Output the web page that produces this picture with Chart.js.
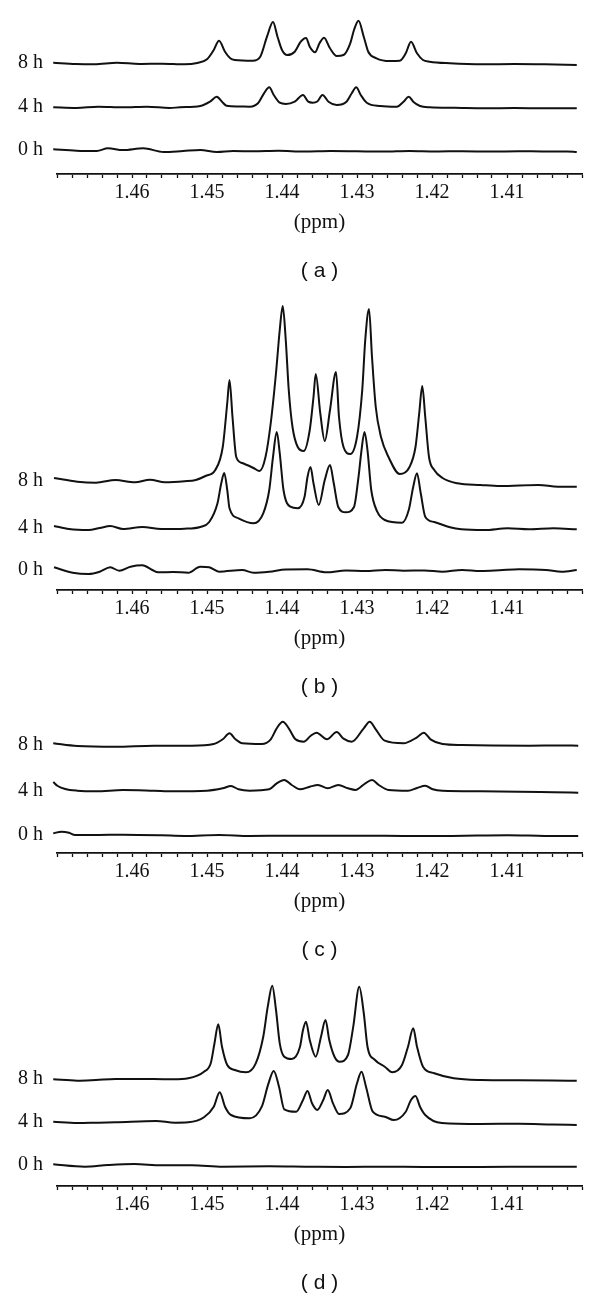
<!DOCTYPE html>
<html>
<head>
<meta charset="utf-8">
<script src="https://cdn.jsdelivr.net/npm/chart.js@4.4.0/dist/chart.umd.min.js"></script>
<style>
  html, body { margin: 0; padding: 0; background: #fff; }
  #page { position: relative; width: 600px; height: 1300px; }
  #page canvas { position: absolute; left: 0; }
</style>
</head>
<body>
<div id="page">
  <canvas id="panelA" width="600" height="287" style="top:0px"></canvas>
  <canvas id="panelB" width="600" height="413" style="top:290px"></canvas>
  <canvas id="panelC" width="600" height="261" style="top:705px"></canvas>
  <canvas id="panelD" width="600" height="331" style="top:968px"></canvas>
</div>
<script>
// ppm tick labels on the shared x axis, and trace names
const ppmLabels = [1.46, 1.45, 1.44, 1.43, 1.42, 1.41];
const timeLabels = ['0 h', '4 h', '8 h'];
const panelNames = ['( a )', '( b )', '( c )', '( d )'];

// vertical stacking of the 0 h / 4 h / 8 h traces in each panel
const offsetsA = [0, 43, 87];
const offsetsB = [0, 42, 89];
const offsetsC = [0, 44, 90];
const offsetsD = [0, 43, 86];

// spectra: [ppm, intensity above own baseline]
const a0h = [[1.4705,0.7],[1.4674,-0.7],[1.4647,-1],[1.4632,1.7],[1.4612,0],[1.4585,1.7],[1.4558,-2],[1.4532,-1],[1.4509,0],[1.4487,-2],[1.4465,-1],[1.4438,-1.3],[1.4405,-0.8],[1.4370,-1.5],[1.4335,-1],[1.4300,-1.3],[1.4265,-1.6],[1.4230,-1],[1.4195,-1.5],[1.4160,-1.2],[1.4120,-1.6],[1.4085,-1.2],[1.4050,-1.5],[1.4020,-1.4],[1.4007,-2]];
const a4h = [[1.4705,-0.3],[1.4674,-1],[1.4645,0.3],[1.4612,-0.3],[1.4580,0.3],[1.4550,-1],[1.4536,-0.3],[1.4509,1],[1.4496,5.3],[1.4487,10.3],[1.4480,5.3],[1.4474,1.3],[1.4458,0.6],[1.4443,0.3],[1.4432,3.7],[1.4424,13.7],[1.4417,19.7],[1.4411,12],[1.4403,4.3],[1.4395,3],[1.4383,5.3],[1.4372,12],[1.4365,5.3],[1.4359,4.3],[1.4353,5.5],[1.4346,12],[1.4338,5.3],[1.4327,2],[1.4314,5.3],[1.4307,13.7],[1.4301,19.7],[1.4295,12],[1.4287,4.3],[1.4269,1],[1.4247,0.3],[1.4238,5.3],[1.4231,10.3],[1.4225,5.3],[1.4216,1],[1.4203,-0.3],[1.4170,-0.8],[1.4130,-1.3],[1.4090,-1],[1.4050,-1.3],[1.4007,-1.3]];
const a8h = [[1.4705,0.3],[1.4675,-1],[1.4650,-1.3],[1.4620,0.3],[1.4590,-1],[1.4560,-0.7],[1.4530,-1.3],[1.4513,0],[1.4500,3.7],[1.4491,13],[1.4484,22.3],[1.4476,11.3],[1.4469,4.7],[1.4463,3],[1.4439,2.3],[1.4429,6.3],[1.4420,26.3],[1.4412,41],[1.4406,26.3],[1.4400,13],[1.4393,8],[1.4383,11.3],[1.4375,21.3],[1.4368,25],[1.4363,16.3],[1.4356,10.7],[1.4350,19.7],[1.4344,25.3],[1.4336,14.7],[1.4327,7],[1.4318,8],[1.4309,19.7],[1.4304,33],[1.4298,42.3],[1.4291,26.3],[1.4285,11.3],[1.4274,4.7],[1.4256,2],[1.4243,2.3],[1.4235,9.7],[1.4228,21.3],[1.4220,9.7],[1.4212,3],[1.4203,1.3],[1.4176,-0.3],[1.4132,-1.3],[1.4090,-1],[1.4050,-1.3],[1.4007,-2]];

const b0h = [[1.4704,2.7],[1.4679,-2.7],[1.4658,-4],[1.4643,-1.7],[1.4629,2.7],[1.4617,-0.7],[1.4602,3.3],[1.4586,4.7],[1.4573,0],[1.4565,-2.3],[1.4545,-2],[1.4525,-2.7],[1.4509,3.3],[1.4497,2.7],[1.4484,-1.7],[1.4453,0],[1.4438,-2.7],[1.4417,-1.7],[1.4395,0.5],[1.4366,0.7],[1.4341,-2.3],[1.4315,-0.5],[1.4289,-1],[1.4262,0],[1.4238,-0.7],[1.4210,-0.5],[1.4186,-1.7],[1.4160,0],[1.4135,-1],[1.4110,-0.3],[1.4084,0.7],[1.4048,0],[1.4027,-1.7],[1.4007,0]];
const b4h = [[1.4704,2],[1.4684,-1],[1.4658,-2],[1.4643,0],[1.4629,2],[1.4612,-1],[1.4586,1],[1.4561,-1],[1.4530,-0.7],[1.4509,1],[1.4497,6],[1.4486,24.7],[1.4481,44.7],[1.4477,55],[1.4473,38],[1.4470,19.7],[1.4458,9.7],[1.4438,4.7],[1.4425,14.7],[1.4417,38],[1.4412,71],[1.4407,96],[1.4403,74.7],[1.4398,38],[1.4389,21.3],[1.4379,19.7],[1.4370,31],[1.4366,51],[1.4362,61],[1.4358,44.7],[1.4351,23],[1.4343,48],[1.4336,63],[1.4331,44.7],[1.4325,21],[1.4315,15.7],[1.4304,21],[1.4298,51],[1.4294,77.7],[1.4290,96],[1.4286,77.7],[1.4281,38],[1.4273,16.3],[1.4263,8],[1.4240,5.3],[1.4231,18],[1.4225,41.3],[1.4220,54.7],[1.4215,34.7],[1.4209,11.3],[1.4197,6],[1.4176,0.7],[1.4161,-1.3],[1.4130,-2],[1.4099,-0.3],[1.4071,-1.3],[1.4038,-0.3],[1.4007,-1.3]];
const b8h = [[1.4704,3],[1.4673,-0.7],[1.4648,-1.7],[1.4622,1],[1.4596,-1.3],[1.4576,1.3],[1.4556,-1.3],[1.4530,-0.3],[1.4515,1],[1.4502,5],[1.4489,11],[1.4479,34],[1.4473,78],[1.4470,101],[1.4466,64],[1.4461,24],[1.4453,18],[1.4438,13],[1.4430,10],[1.4422,24],[1.4415,58],[1.4408,108],[1.4403,151],[1.4399,175],[1.4395,141],[1.4391,91],[1.4386,54],[1.4379,34],[1.4371,30],[1.4363,51],[1.4358,84],[1.4355,107],[1.4349,68],[1.4343,40],[1.4336,71],[1.4328,109],[1.4324,64],[1.4318,34],[1.4309,27],[1.4300,44],[1.4293,91],[1.4289,141],[1.4284,172],[1.4280,124],[1.4275,74],[1.4268,44],[1.4258,24],[1.4243,7],[1.4230,14],[1.4222,34],[1.4217,68],[1.4213,95],[1.4209,64],[1.4204,24],[1.4197,11],[1.4186,3],[1.4166,-2.3],[1.4135,-4],[1.4109,-5],[1.4058,-4],[1.4032,-5.7],[1.4007,-5.7]];

const c0h = [[1.4705,1.7],[1.4694,3.3],[1.4684,2.3],[1.4676,0],[1.4648,0],[1.4612,0.3],[1.4561,-0.3],[1.4530,-1],[1.4484,0],[1.4443,-1],[1.4392,-0.7],[1.4340,-0.8],[1.4289,-0.7],[1.4238,-1],[1.4186,-1],[1.4140,-0.6],[1.4099,-0.3],[1.4050,-0.9],[1.4005,-1]];
const c4h = [[1.4705,9],[1.4699,5],[1.4689,2],[1.4673,0.3],[1.4648,-0.3],[1.4612,1],[1.4571,0.3],[1.4545,-0.3],[1.4500,0.3],[1.4479,2.7],[1.4468,5],[1.4458,1.7],[1.4443,0.3],[1.4417,1.7],[1.4407,7.7],[1.4397,11],[1.4387,6],[1.4376,1.7],[1.4363,4.3],[1.4352,6],[1.4339,2.7],[1.4325,6],[1.4312,2.7],[1.4302,1],[1.4290,7],[1.4280,11],[1.4271,6],[1.4258,1],[1.4232,0.3],[1.4220,3],[1.4209,5.3],[1.4199,1.7],[1.4186,0.3],[1.4135,-0.3],[1.4084,-0.7],[1.4038,-1.3],[1.4005,-1.7]];
const c8h = [[1.4705,1.7],[1.4673,-1],[1.4622,-1.7],[1.4571,-0.7],[1.4520,-0.7],[1.4491,1],[1.4479,5.7],[1.4470,11.7],[1.4462,5.7],[1.4453,1.7],[1.4427,1],[1.4415,5.7],[1.4407,16.7],[1.4399,23.3],[1.4391,16.7],[1.4382,5.7],[1.4371,3.3],[1.4362,9],[1.4354,12.3],[1.4340,5.7],[1.4327,13],[1.4318,6.3],[1.4307,3.3],[1.4291,16.7],[1.4283,23.3],[1.4275,15.7],[1.4263,4.3],[1.4238,1.7],[1.4220,7.7],[1.4211,12.3],[1.4202,5.7],[1.4186,1],[1.4160,0],[1.4120,-0.5],[1.4070,-0.7],[1.4030,-0.5],[1.4005,-0.7]];

const d0h = [[1.4705,0.7],[1.4663,-1.7],[1.4632,0],[1.4597,1],[1.4561,-0.3],[1.4520,-0.3],[1.4479,-1.7],[1.4417,-1.3],[1.4366,-1.7],[1.4315,-2],[1.4263,-1.7],[1.4212,-2],[1.4135,-2],[1.4058,-1.7],[1.4007,-1.7]];
const d4h = [[1.4705,0.3],[1.4673,-1],[1.4648,-0.7],[1.4622,-0.3],[1.4568,1],[1.4543,-0.7],[1.4525,-0.3],[1.4504,4.7],[1.4491,15.3],[1.4483,29.7],[1.4476,15.3],[1.4468,7],[1.4443,3.7],[1.4427,15.3],[1.4418,38.7],[1.4411,51],[1.4404,35.3],[1.4397,12.7],[1.4381,10.3],[1.4372,22],[1.4366,31],[1.4360,18.7],[1.4353,12],[1.4345,22],[1.4339,32],[1.4332,18.7],[1.4324,8],[1.4309,13.7],[1.4300,38.7],[1.4294,50.3],[1.4288,35.3],[1.4279,10.3],[1.4263,5.3],[1.4251,2],[1.4235,10.3],[1.4228,22],[1.4222,26],[1.4216,15.3],[1.4209,7],[1.4187,-1],[1.4135,-2],[1.4084,-1.7],[1.4040,-2.5],[1.4007,-3]];
const d8h = [[1.4705,-0.3],[1.4673,-1.7],[1.4648,-1],[1.4622,0],[1.4571,0],[1.4545,-0.3],[1.4525,0.7],[1.4504,7.3],[1.4495,15.7],[1.4490,35.7],[1.4485,54.7],[1.4480,32.3],[1.4473,14],[1.4463,9],[1.4448,6.7],[1.4435,15.7],[1.4425,42.3],[1.4419,72.3],[1.4413,93.3],[1.4408,69],[1.4403,35.7],[1.4397,22.3],[1.4387,20],[1.4376,32.3],[1.4372,49],[1.4368,57.3],[1.4363,39],[1.4355,22.3],[1.4348,42.3],[1.4342,59],[1.4337,39],[1.4330,22.3],[1.4323,17.3],[1.4312,24],[1.4305,52.3],[1.4297,92.3],[1.4291,66],[1.4286,32.3],[1.4276,19],[1.4263,12.3],[1.4253,6.7],[1.4240,14],[1.4232,32.3],[1.4225,50.7],[1.4220,32.3],[1.4212,12.3],[1.4197,5.7],[1.4171,0.7],[1.4135,-1],[1.4084,-1.3],[1.4040,-1.5],[1.4007,-1.7]];

const serif = 'Liberation Serif';
const ink = '#111';

function drawPanel(canvasId, traces, offsets, yMin, yMax, name) {
  const datasets = traces.map((trace, i) => ({
    data: trace.map(([x, y]) => ({ x: x, y: y + offsets[i] })),
    borderColor: ink,
    borderWidth: 2,
    pointRadius: 0,
    fill: false,
    cubicInterpolationMode: 'monotone',
    clip: false
  }));

  return new Chart(document.getElementById(canvasId), {
    type: 'line',
    data: { datasets },
    options: {
      responsive: false,
      animation: false,
      events: [],
      layout: { padding: { left: 0, right: 18, top: 0, bottom: 0 } },
      plugins: {
        legend: { display: false },
        tooltip: { enabled: false },
        title: {
          display: true,
          text: name,
          position: 'bottom',
          fullSize: false,
          color: ink,
          font: { family: 'Liberation Sans', size: 21, weight: 'normal', lineHeight: '23px' },
          padding: { top: 22, bottom: 4 }
        }
      },
      scales: {
        x: {
          type: 'linear',
          reverse: true,
          min: 1.40,
          max: 1.47,
          grid: { display: true, drawOnChartArea: false, drawTicks: true, tickLength: 4, tickColor: ink, tickWidth: 1.3 },
          border: { display: true, color: ink, width: 1.8 },
          ticks: {
            stepSize: 0.002,
            autoSkip: false,
            maxRotation: 0,
            padding: 3,
            color: ink,
            font: { family: serif, size: 20, lineHeight: 1.2 },
            callback: (v) => {
              const hit = ppmLabels.find(p => Math.abs(p - v) < 1e-6);
              return hit === undefined ? '' : hit.toFixed(2);
            }
          },
          title: {
            display: true,
            text: '(ppm)',
            color: ink,
            font: { family: serif, size: 21, lineHeight: '24px' },
            padding: { top: 2, bottom: 4 }
          },
          afterFit: (s) => { s.paddingLeft = 0; s.paddingRight = 0; }
        },
        y: {
          type: 'linear',
          min: yMin,
          max: yMax,
          grid: { display: false, drawTicks: false },
          border: { display: false },
          afterBuildTicks: (s) => { s.ticks = offsets.map(v => ({ value: v })); },
          ticks: {
            padding: 14,
            color: ink,
            font: { family: serif, size: 20 },
            callback: (v, i) => timeLabels[i]
          },
          afterFit: (s) => { s.width = 57; s.paddingTop = 0; s.paddingBottom = 0; }
        }
      }
    }
  });
}

drawPanel('panelA', [a0h, a4h, a8h], offsetsA, -24, 150, panelNames[0]);
drawPanel('panelB', [b0h, b4h, b8h], offsetsB, -20, 280, panelNames[1]);
drawPanel('panelC', [c0h, c4h, c8h], offsetsC, -18, 130, panelNames[2]);
drawPanel('panelD', [d0h, d4h, d8h], offsetsD, -21, 197, panelNames[3]);
</script>
</body>
</html>
